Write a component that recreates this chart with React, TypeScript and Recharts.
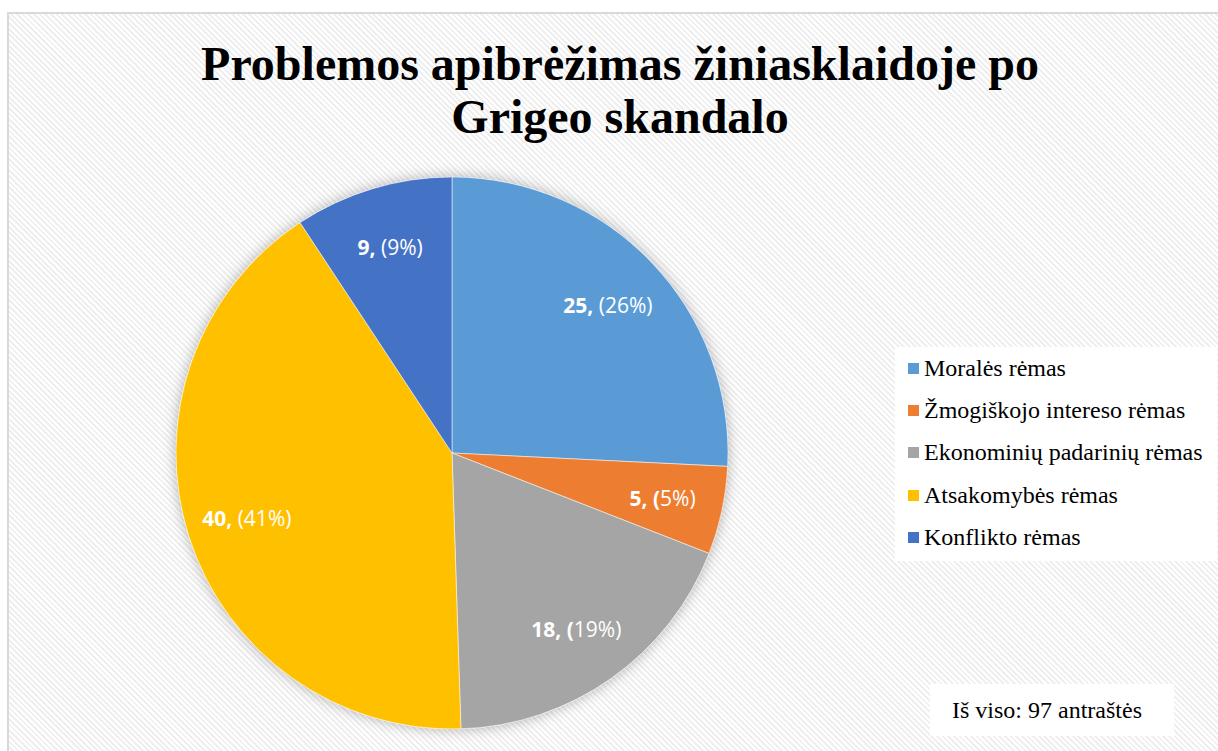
import React from 'react';
import { PieChart, Pie, Cell, Legend, Sector } from 'recharts';

const categories = [
  'Moralės rėmas',
  'Žmogiškojo intereso rėmas',
  'Ekonominių padarinių rėmas',
  'Atsakomybės rėmas',
  'Konflikto rėmas',
];
const counts = [25, 5, 18, 40, 9];
const labelBold = ['25,', '5, (', '18, (', '40,', '9,'];
const labelRegular = [' (26%)', '5%)', '19%)', ' (41%)', ' (9%)'];
const colors = ['#5B9BD5', '#ED7D31', '#A5A5A5', '#FFC000', '#4472C4'];
const titleLines = ['Problemos apibrėžimas žiniasklaidoje po', 'Grigeo skandalo'];
const totalNote = 'Iš viso: 97 antraštės';

const data = categories.map((name, i) => ({ name, value: counts[i] }));

const RADIAN = Math.PI / 180;

const renderLabel = (props: any) => {
  const { cx, cy, midAngle, outerRadius, index } = props;
  const r = outerRadius * 0.78;
  const x = cx + r * Math.cos(-midAngle * RADIAN);
  const y = cy + r * Math.sin(-midAngle * RADIAN);
  return (
    <text
      x={x}
      y={y}
      fill="#ffffff"
      textAnchor="middle"
      dominantBaseline="central"
      fontFamily="'Open Sans', 'Noto Sans', sans-serif"
      fontSize={21}
    >
      <tspan fontWeight="bold">{labelBold[index]}</tspan>
      <tspan>{labelRegular[index]}</tspan>
    </text>
  );
};

const shadowShape = (props: any) => <Sector {...props} fill="#ffffff" filter="url(#pieShadow)" />;

const LegendContent = () => (
  <div
    style={{
      background: '#ffffff',
      width: 322,
      height: 214,
      boxSizing: 'border-box',
      paddingTop: 0,
      paddingLeft: 13,
    }}
  >
    {categories.map((c, i) => (
      <div
        key={c}
        style={{
          display: 'flex',
          alignItems: 'center',
          height: 42.3,
          fontFamily: "'Liberation Serif', 'Times New Roman', serif",
          fontSize: 24,
          color: '#000',
          whiteSpace: 'nowrap',
        }}
      >
        <span
          style={{
            display: 'inline-block',
            width: 11,
            height: 11,
            background: colors[i],
            marginRight: 5,
          }}
        />
        {c}
      </div>
    ))}
  </div>
);

export default function App() {
  return (
    <div style={{ position: 'absolute', left: 0, top: 0, width: 1218, height: 751, overflow: 'hidden', background: '#fff' }}>
      <div
        style={{
          position: 'absolute',
          left: 7,
          top: 12,
          width: 1240,
          height: 760,
          border: '2px solid #d9d9d9',
          background:
            'repeating-linear-gradient(45deg, #ffffff 0px, #ffffff 2px, #efefef 2px, #efefef 4px)',
        }}
      />
      <div style={{ position: 'absolute', left: 0, top: 0 }}>
        <PieChart width={1218} height={751} margin={{ top: 0, right: 0, bottom: 0, left: 0 }}>
          <defs>
            <filter id="pieShadow" x="-30%" y="-30%" width="160%" height="160%">
              <feDropShadow dx="0" dy="0" stdDeviation="7" floodColor="#000" floodOpacity="0.3" />
            </filter>
          </defs>
          <Pie
            data={data}
            dataKey="value"
            nameKey="name"
            cx={452}
            cy={453}
            outerRadius={276}
            startAngle={90}
            endAngle={-270}
            isAnimationActive={false}
            stroke="none"
            shape={shadowShape}
            legendType="none"
          />
          <Pie
            data={data}
            dataKey="value"
            nameKey="name"
            cx={452}
            cy={453}
            outerRadius={276}
            startAngle={90}
            endAngle={-270}
            isAnimationActive={false}
            stroke="#ffffff"
            strokeOpacity={0.5}
            strokeWidth={1}
            label={renderLabel}
            labelLine={false}
          >
            {data.map((d, i) => (
              <Cell key={d.name} fill={colors[i]} />
            ))}
          </Pie>
          <Legend
            content={<LegendContent />}
            wrapperStyle={{ position: 'absolute', left: 895, top: 347, width: 322, height: 214 }}
          />
        </PieChart>
      </div>
      <div
        style={{
          position: 'absolute',
          left: 0,
          top: 37,
          width: 1240,
          textAlign: 'center',
          fontFamily: "'Liberation Serif', 'Times New Roman', serif",
          fontWeight: 'bold',
          fontSize: 48,
          lineHeight: '53px',
          color: '#000',
        }}
      >
        {titleLines.map((t) => (
          <div key={t}>{t}</div>
        ))}
      </div>
      <div
        style={{
          position: 'absolute',
          left: 930,
          top: 684,
          width: 244,
          height: 52,
          background: '#ffffff',
          boxSizing: 'border-box',
          paddingLeft: 22,
          lineHeight: '52px',
          fontFamily: "'Liberation Serif', 'Times New Roman', serif",
          fontSize: 24,
          color: '#000',
        }}
      >
        {totalNote}
      </div>
    </div>
  );
}
